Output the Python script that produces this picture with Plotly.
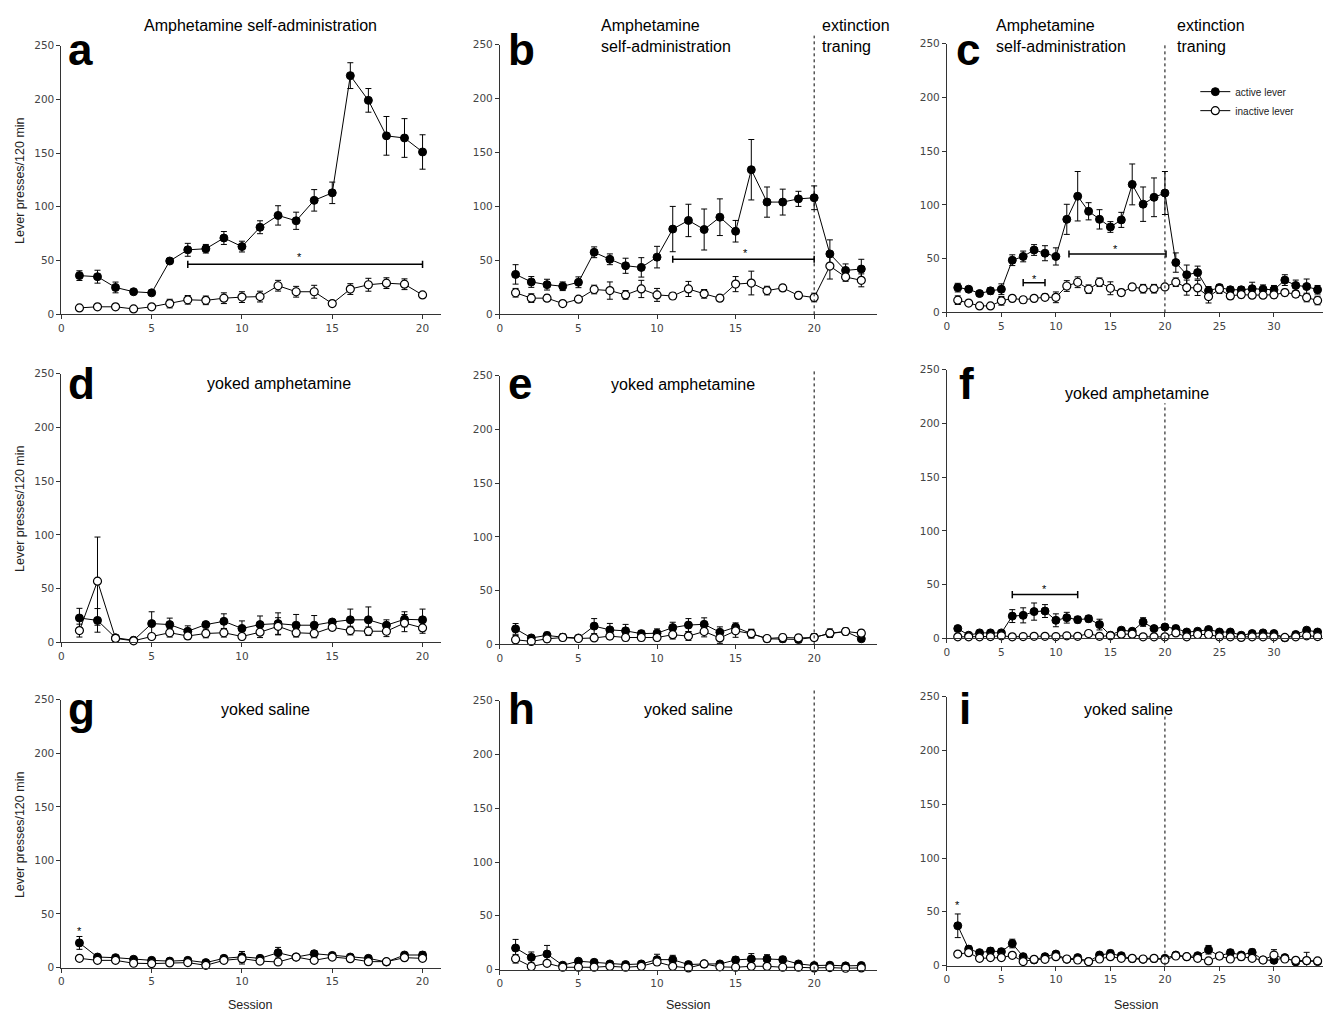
import plotly.graph_objects as go

# ---------------- data ----------------
s20 = list(range(1, 21))
s23 = list(range(1, 24))
s34 = list(range(1, 35))

a_act = [36, 35, 25, 21, 20, 49.6, 60, 61, 71, 63, 81, 92, 87, 106, 113, 222, 199, 166, 164, 151]
a_act_err = [4.5, 6, 5, 2, 2, 2, 6, 4, 6, 5, 6, 9, 8, 10, 10, 12, 11, 18, 18, 16]
a_ina = [6, 7, 7, 5, 7, 10, 13.5, 13, 15, 16, 16.5, 26.6, 21, 21, 10, 23.5, 27.5, 29, 28, 18]
a_ina_err = [1, 2, 1, 1, 1, 4, 4, 4, 5, 5, 5, 5, 5, 6, 1, 5, 6, 5, 5, 2]

b_act = [37, 30, 27.5, 26, 29.7, 57.5, 51, 45, 43.5, 53, 79, 87, 78.6, 90, 77, 134, 104, 104, 107, 108, 56, 40.7, 42]
b_act_err = [9, 5, 5, 4, 5, 5, 5, 7, 9, 10, 21, 15, 19, 17, 10, 28, 14, 12, 7, 11, 13, 6, 9]
b_ina = [20, 15, 15, 10, 14, 23, 22, 18, 23.5, 18, 17, 23.5, 19, 15, 28, 29, 22, 24.5, 17.5, 15.6, 44.7, 34.6, 31.5]
b_ina_err = [4, 4, 3, 2, 2, 4, 8, 4, 8, 6, 3, 7, 4, 3, 7, 11, 4, 3, 3, 4, 12, 4, 6]

c_act = [23, 21.5, 17.5, 20, 21.5, 48.5, 52, 58, 55, 52, 86.5, 108, 94, 86.5, 79.4, 86, 119, 100.6, 107, 111,
         46.3, 35, 37, 20, 23, 21, 21, 22, 21.5, 21, 30, 25, 24, 21]
c_act_err = [4, 2, 2, 3, 5, 5, 5, 5, 7, 8, 14, 23, 8, 9, 5, 7, 19, 16, 18, 20,
             9, 9, 6, 4, 3, 3, 3, 6, 4, 4, 5, 5, 7, 4]
c_ina = [11.3, 8.6, 6, 6, 10.7, 13, 11.7, 13, 14, 14, 24.5, 28, 21.5, 28, 22.4, 18.4, 23.6, 22, 22, 23.6,
         28, 23, 22.7, 14.7, 21.5, 15.3, 16.5, 16, 16, 16.3, 18.4, 17, 13.8, 11]
c_ina_err = [4, 2, 2, 2, 4, 2, 3, 2, 3, 5, 5, 5, 4, 4, 6, 3, 3, 4, 4, 2,
             4, 7, 7, 6, 4, 3, 3, 3, 3, 3, 3, 3, 4, 4]

d_act = [22.7, 20.5, 4.3, 2, 17.5, 16.6, 10.4, 16.6, 19.6, 13, 16.6, 17.5, 16, 16, 19, 21, 21, 16, 21.5, 21]
d_act_err = [9, 11, 2, 1, 11, 6, 5, 2, 7, 7, 8, 10, 10, 9, 2, 10, 12, 5, 7, 10]
d_ina = [11, 57, 3.7, 1.5, 5.5, 9, 6, 8.3, 9, 5.5, 9.5, 15, 9, 8.3, 14, 11, 10.4, 10.4, 18, 13.5]
d_ina_err = [6, 41, 2, 1, 2, 4, 3, 4, 4, 3, 5, 8, 4, 4, 3, 4, 4, 5, 8, 5]

e_act = [14.4, 6, 8.3, 6.7, 6, 17, 13.5, 12.6, 10, 10.4, 15.6, 18, 18.7, 11.3, 16, 10, 5.2, 5.2, 4.6, 6.7, 10, 12, 5.2]
e_act_err = [5, 2, 3, 3, 2, 7, 6, 6, 3, 4, 5, 6, 6, 5, 4, 4, 2, 3, 3, 3, 3, 3, 2]
e_ina = [4.3, 2.8, 5.2, 6.4, 5.5, 6, 7.7, 6.4, 6.4, 6.4, 9, 7.7, 12, 6, 12.6, 10, 5.5, 6.4, 6, 6.4, 10.4, 12, 10.4]
e_ina_err = [4, 2, 3, 3, 2, 2, 3, 3, 3, 3, 4, 4, 5, 5, 6, 4, 2, 3, 3, 3, 4, 3, 3]

f_act = [9.2, 3, 5.2, 5.2, 5.2, 20.8, 21.5, 25, 25.5, 16.9, 19.3, 17.5, 18.4, 12.9, 3, 7.7, 6.7, 15.3, 9.2, 10.7,
         9.2, 6, 6.7, 8.3, 6, 6, 3, 4.6, 5.2, 4.6, 0.6, 3.7, 7.7, 6]
f_act_err = [2, 1, 1, 2, 2, 6, 7, 8, 6, 6, 5, 3, 3, 5, 1, 2, 2, 4, 2, 2,
             3, 2, 2, 2, 2, 2, 1, 1, 1, 1, 0, 1, 2, 2]
f_ina = [1.5, 1.5, 1.5, 1.8, 2.5, 1.5, 1.8, 2, 2, 1.8, 2.5, 2, 4.6, 2, 2.5, 4, 4, 1.5, 1.5, 1.5,
         5.2, 1.5, 3.7, 3.7, 1.5, 1.5, 1, 1.5, 1.5, 1.5, 1, 1.5, 2.5, 1.8]
f_ina_err = [1] * 34

g_act = [23, 9.8, 9.2, 7.7, 6.7, 6, 6.7, 4.6, 8.6, 10, 8.6, 13.8, 9.8, 12.9, 11.3, 9.8, 8.6, 5.2, 11.7, 11.7]
g_act_err = [6, 2, 2, 1, 1, 1, 1, 1, 2, 5, 2, 5, 2, 3, 2, 2, 2, 1, 2, 3]
g_ina = [8.6, 6.7, 6.7, 4, 3.7, 4.3, 4.6, 2.1, 6.7, 8.3, 6, 5.2, 9.8, 6.7, 9.8, 8.3, 5.5, 5.5, 9.2, 8.6]
g_ina_err = [2, 2, 2, 1, 3, 1, 1, 1, 2, 5, 1, 1, 2, 2, 2, 2, 1, 1, 2, 2]

h_act = [20, 11.3, 14.4, 4, 7.7, 6.7, 5.2, 4.6, 5.2, 9.2, 9.2, 4.6, 5.2, 5.2, 8.9, 9.8, 9.8, 9.2, 5.2, 3.7, 4, 3.4, 3.7]
h_act_err = [8, 5, 8, 1, 2, 2, 2, 2, 2, 5, 4, 1, 3, 2, 3, 5, 4, 3, 2, 1, 1, 1, 1]
h_ina = [10, 2.8, 5.8, 2.1, 2.1, 2.1, 3, 2.1, 3, 7, 3, 1.5, 5.2, 2.5, 2.1, 3, 3, 2.1, 2.1, 1.5, 1.8, 1.2, 1.5]
h_ina_err = [4, 1, 2, 1, 1, 1, 1, 1, 1, 3, 1, 1, 2, 1, 1, 1, 1, 1, 1, 1, 1, 1, 1]

i_act = [37, 15.3, 12, 13.5, 12.9, 20.5, 8.3, 5.2, 8.3, 10.7, 5.8, 7.4, 3.7, 9.8, 11.3, 9.2, 6.4, 5.8, 6.4, 6.7,
         9.8, 8.3, 9.2, 14.7, 8.9, 12, 9.8, 12.3, 5.2, 4.9, 7.4, 3.4, 4.3, 3.7]
i_act_err = [11, 3, 2, 3, 3, 4, 2, 1, 2, 2, 1, 1, 1, 2, 3, 2, 1, 1, 1, 1,
             2, 2, 2, 4, 2, 3, 2, 3, 1, 2, 2, 1, 8, 1]
i_ina = [10.7, 12, 6.7, 7.4, 7.4, 9.5, 3.7, 5.8, 5.8, 8.3, 6.1, 5.2, 3.7, 6.1, 8.3, 6.7, 6.7, 6.1, 6.7, 5.2,
         8.9, 8.3, 6.7, 4.3, 8.9, 6.1, 8.3, 6.7, 5.2, 9.8, 6.1, 4.9, 4.6, 4.3]
i_ina_err = [2, 2, 2, 2, 2, 2, 1, 1, 1, 2, 1, 1, 1, 1, 2, 1, 1, 1, 1, 1,
             2, 1, 2, 2, 2, 2, 3, 2, 1, 5, 1, 1, 2, 1]

panel_letters = ["a", "b", "c", "d", "e", "f", "g", "h", "i"]
x_max = [21, 24, 34.5]
x_ticks = [[0, 5, 10, 15, 20], [0, 5, 10, 15, 20], [0, 5, 10, 15, 20, 25, 30]]
y_ticks = [0, 50, 100, 150, 200, 250]

# significance bars: (panel index, x start, x end, y)
sig_bars = [(0, 7, 20, 46.5), (1, 11, 20, 51), (2, 7, 9, 27.6), (2, 11.2, 20.1, 54.3), (5, 6, 12, 40.8)]
# significance stars: (panel index, x, y)
sig_stars = [(0, 13.2, 53), (1, 15.6, 57), (2, 8.05, 31), (2, 15.5, 59), (5, 9, 46), (6, 1, 34), (8, 1, 56)]
# extinction boundary: (panel index, session, top as fraction of axis height)
extinction_lines = [(1, 20, 1.033), (2, 20, 1.0), (4, 20, 1.022), (5, 20, 0.875), (7, 20, 1.04), (8, 20, 0.934)]

panels = [
    (s20, a_act, a_act_err, a_ina, a_ina_err),
    (s23, b_act, b_act_err, b_ina, b_ina_err),
    (s34, c_act, c_act_err, c_ina, c_ina_err),
    (s20, d_act, d_act_err, d_ina, d_ina_err),
    (s23, e_act, e_act_err, e_ina, e_ina_err),
    (s34, f_act, f_act_err, f_ina, f_ina_err),
    (s20, g_act, g_act_err, g_ina, g_ina_err),
    (s23, h_act, h_act_err, h_ina, h_ina_err),
    (s34, i_act, i_act_err, i_ina, i_ina_err),
]

# ---------------- layout geometry (pixels) ----------------
W, H = 1330, 1019
col_px = [(58.5, 438.6), (498, 876), (946, 1323)]
panel_rows_px = [(40, 312), (39, 312), (38, 310),
                 (372, 644), (374, 646), (368, 640),
                 (702, 973), (703, 975), (699, 971)]

AX = "#333333"
TICKFONT = dict(family="DejaVu Sans", size=10.5, color="#444444")
TXT = "Liberation Sans, Arial"

fig = go.Figure()
layout = dict(width=W, height=H, margin=dict(l=0, r=0, t=0, b=0),
              paper_bgcolor="white", plot_bgcolor="white",
              showlegend=True)

for k, (xs, act, act_e, ina, ina_e) in enumerate(panels):
    r, c = divmod(k, 3)
    sfx = "" if k == 0 else str(k + 1)
    top, bot = panel_rows_px[k]
    x0, x1 = col_px[c]
    layout["xaxis" + sfx] = dict(domain=[x0 / W, x1 / W], range=[0, x_max[c]],
                                 tickvals=x_ticks[c], anchor="y" + sfx,
                                 showline=True, linecolor=AX, linewidth=1,
                                 ticks="outside", ticklen=4, tickcolor=AX,
                                 showgrid=False, zeroline=False, tickfont=TICKFONT)
    layout["yaxis" + sfx] = dict(domain=[1 - bot / H, 1 - top / H], range=[0, 250],
                                 tickvals=y_ticks, anchor="x" + sfx,
                                 showline=True, linecolor=AX, linewidth=1,
                                 ticks="outside", ticklen=4, tickcolor=AX,
                                 showgrid=False, zeroline=False, tickfont=TICKFONT)
    legend_on = (k == 2)
    fig.add_trace(go.Scatter(
        x=xs, y=act, mode="lines+markers", name="active lever", showlegend=legend_on,
        xaxis="x" + sfx, yaxis="y" + sfx, cliponaxis=False,
        line=dict(color="black", width=1),
        marker=dict(symbol="circle", size=8, color="black", line=dict(color="black", width=1)),
        error_y=dict(type="data", array=act_e, visible=True, color="black", thickness=1, width=3)))
    fig.add_trace(go.Scatter(
        x=xs, y=ina, mode="lines+markers", name="inactive lever", showlegend=legend_on,
        xaxis="x" + sfx, yaxis="y" + sfx, cliponaxis=False,
        line=dict(color="black", width=1),
        marker=dict(symbol="circle", size=8, color="white", line=dict(color="black", width=1.2)),
        error_y=dict(type="data", array=ina_e, visible=True, color="black", thickness=1, width=3)))

shapes = []
annotations = []

for (k, xa, xb, yv) in sig_bars:
    sfx = "" if k == 0 else str(k + 1)
    shapes.append(dict(type="line", xref="x" + sfx, yref="y" + sfx, x0=xa, x1=xb, y0=yv, y1=yv,
                       line=dict(color="black", width=1.5)))
    for xe in (xa, xb):
        shapes.append(dict(type="line", xref="x" + sfx, yref="y" + sfx, x0=xe, x1=xe,
                           y0=yv - 3.3, y1=yv + 3.3, line=dict(color="black", width=1.5)))

for (k, xs_, ys_) in sig_stars:
    sfx = "" if k == 0 else str(k + 1)
    annotations.append(dict(text="*", xref="x" + sfx, yref="y" + sfx, x=xs_, y=ys_,
                            showarrow=False, font=dict(family=TXT, size=11, color="#000000")))

for (k, xv, frac) in extinction_lines:
    sfx = str(k + 1)
    shapes.append(dict(type="line", xref="x" + sfx, yref="y" + sfx + " domain", x0=xv, x1=xv,
                       y0=0, y1=frac, line=dict(color="black", width=1, dash="dot")))

# panel letters
letter_pos = [(63, 44), (504, 44), (953, 44), (63, 382), (504, 382), (956, 382),
              (63, 711), (504, 711), (956, 711)]
for L, (px, py) in zip(panel_letters, letter_pos):
    annotations.append(dict(text="<b>%s</b>" % L, xref="paper", yref="paper",
                            x=px / W, y=1 - py / H, xanchor="left", yanchor="middle",
                            showarrow=False, font=dict(family=TXT, size=44, color="black")))

# panel titles: (text, x px, y px, xanchor, align)
titles = [
    ("Amphetamine self-administration", 258, 20, "center", "center"),
    ("Amphetamine<br>self-administration", 597, 30, "left", "left"),
    ("extinction<br>traning", 819, 30, "left", "left"),
    ("Amphetamine<br>self-administration", 993, 30, "left", "left"),
    ("extinction<br>traning", 1175, 30, "left", "left"),
    ("yoked amphetamine", 277, 382, "center", "center"),
    ("yoked amphetamine", 682, 383, "center", "center"),
    ("yoked amphetamine", 1137, 392, "center", "center"),
    ("yoked saline", 263, 712, "center", "center"),
    ("yoked saline", 687, 712, "center", "center"),
    ("yoked saline", 1128, 712, "center", "center"),
]
for (t, px, py, xa, al) in titles:
    annotations.append(dict(text=t, xref="paper", yref="paper", x=px / W, y=1 - py / H,
                            xanchor=xa, yanchor="middle", align=al, showarrow=False,
                            font=dict(family=TXT, size=16, color="black")))

# axis titles
for py in (176, 508, 838):
    annotations.append(dict(text="Lever presses/120 min", xref="paper", yref="paper",
                            x=17 / W, y=1 - py / H, textangle=-90, showarrow=False,
                            xanchor="center", yanchor="middle",
                            font=dict(family=TXT, size=12.5, color="#222222")))
for px in (248, 687, 1136):
    annotations.append(dict(text="Session", xref="paper", yref="paper",
                            x=px / W, y=1 - 1011 / H, showarrow=False,
                            xanchor="center", yanchor="middle",
                            font=dict(family=TXT, size=12.5, color="#222222")))

layout["shapes"] = shapes
layout["annotations"] = annotations
layout["legend"] = dict(x=1195 / W, y=1 - 72 / H, xanchor="left", yanchor="top",
                        bgcolor="rgba(0,0,0,0)", font=dict(family=TXT, size=10, color="#222222"),
                        itemwidth=30, tracegroupgap=0)
fig.update_layout(**layout)

fig.write_html("out.html")
